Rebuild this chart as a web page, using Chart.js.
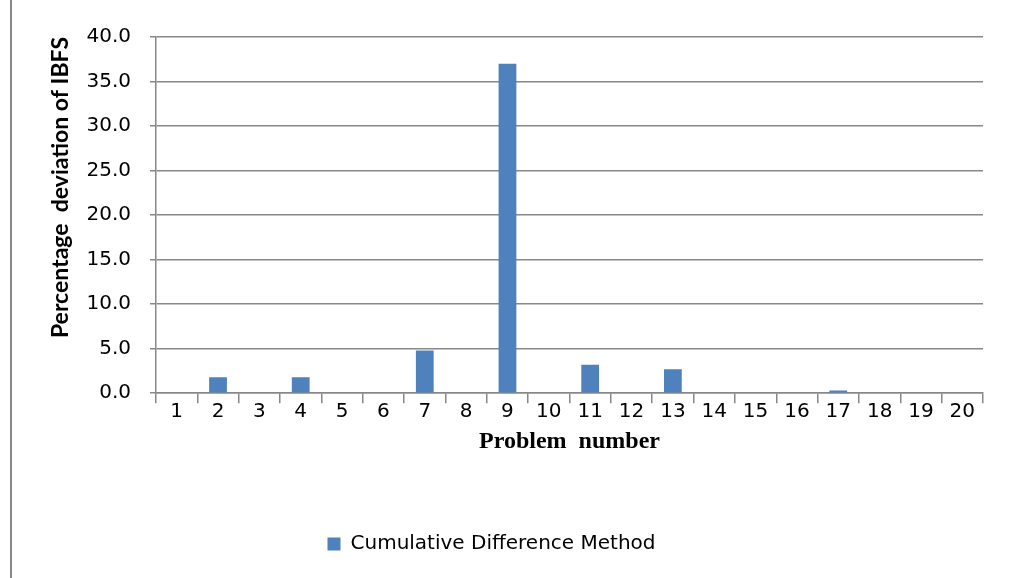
<!DOCTYPE html>
<html>
<head>
<meta charset="utf-8">
<script src="https://cdn.jsdelivr.net/npm/chart.js@4"></script>
<style>
  body { margin: 0; background: #fff; }
  #wrap { position: relative; width: 1009px; height: 578px; }
  #frame { position: absolute; left: 10px; top: 0; width: 2px; height: 578px; background: #888; }
</style>
</head>
<body>
<div id="wrap">
  <div id="frame"></div>
  <canvas id="chart" width="1009" height="578"></canvas>
</div>
<script>
// problem numbers 1..20
const problems = ['1','2','3','4','5','6','7','8','9','10','11','12','13','14','15','16','17','18','19','20'];
// percentage deviation of IBFS, cumulative difference method
const deviation = [0, 1.8, 0, 1.8, 0, 0, 4.8, 0, 37.0, 0, 3.2, 0, 2.7, 0, 0, 0, 0.3, 0, 0, 0];
const seriesName = 'Cumulative Difference Method';

const gridColor = '#888888';
const labelFont = { family: '"DejaVu Sans", sans-serif', size: 20 };

// legend sits a bit left of the plot centre in the original
const legendShift = {
    id: 'legendShift',
    afterLayout(chart) {
        chart.legend.left -= 20;
        chart.legend.right -= 20;
    }
};

const ctx = document.getElementById('chart').getContext('2d');
const chart = new Chart(ctx, {
    type: 'bar',
    data: {
        labels: problems,
        datasets: [{
            label: seriesName,
            data: deviation,
            backgroundColor: '#4F81BD',
            barPercentage: 0.86,
            categoryPercentage: 0.5
        }]
    },
    options: {
        responsive: false,
        animation: false,
        layout: { padding: { left: 40, right: 26, top: 37, bottom: 14 } },
        plugins: {
            tooltip: { enabled: false },
            legend: {
                position: 'bottom',
                labels: {
                    color: '#000',
                    font: labelFont,
                    boxWidth: 13,
                    boxHeight: 13,
                    padding: 10
                }
            }
        },
        scales: {
            x: {
                grid: {
                    drawOnChartArea: false,
                    color: gridColor,
                    lineWidth: 1.5,
                    tickLength: 10
                },
                border: { color: gridColor, width: 1.5 },
                ticks: { color: '#000', font: labelFont, maxRotation: 0, padding: -3 },
                title: {
                    display: true,
                    text: 'Problem  number',
                    color: '#000',
                    font: { family: '"Liberation Serif", serif', size: 24, weight: 'bold' },
                    padding: { top: 6, bottom: 68 }
                }
            },
            y: {
                min: 0,
                max: 40,
                afterFit: function(scale) { scale.width = 116; },
                grid: {
                    color: gridColor,
                    lineWidth: 1.5,
                    tickLength: 6
                },
                border: { color: gridColor, width: 1.5 },
                ticks: {
                    stepSize: 5,
                    color: '#000',
                    font: labelFont,
                    padding: 19,
                    callback: function(v) { return v.toFixed(1); }
                },
                title: {
                    display: true,
                    text: 'Percentage  deviation of IBFS',
                    align: 'end',
                    color: '#000',
                    font: { family: 'Lato, "Open Sans", sans-serif', size: 23, weight: 'bold' },
                    padding: { top: 7, bottom: 0 }
                }
            }
        }
    },
    plugins: [legendShift]
});
</script>
</body>
</html>
